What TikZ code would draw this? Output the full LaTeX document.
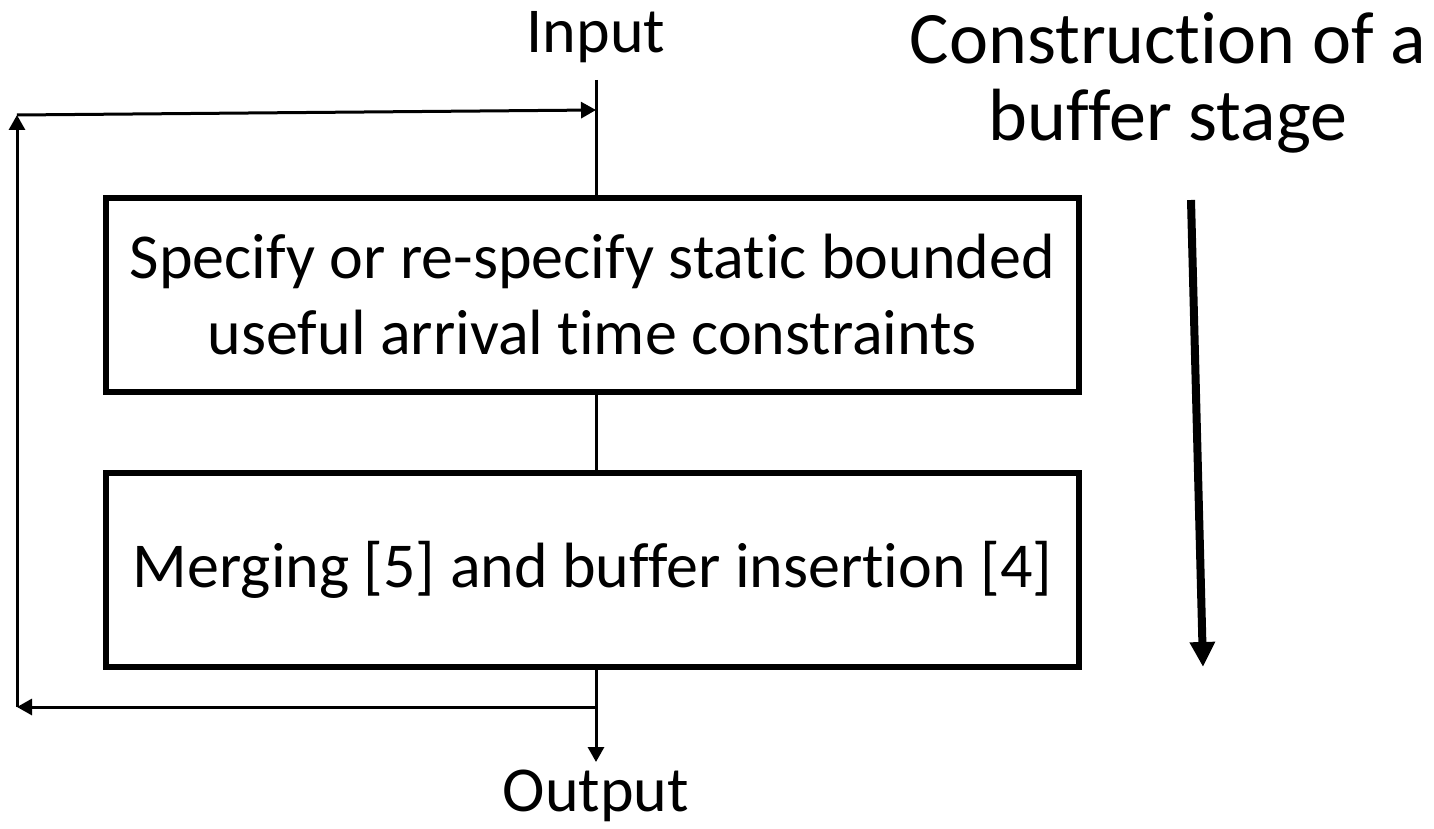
\documentclass[tikz,border=0pt]{standalone}
\usepackage{fontspec}
\setmainfont{Carlito}[Ligatures={NoCommon}]
\usetikzlibrary{arrows.meta}
\tikzset{
    stagebox/.style={draw,line width=6pt,minimum width=973pt,minimum height=194pt,
        align=center,font=\fontsize{64}{76}\selectfont},
    flow/.style={line width=3pt},
    flowarrow/.style={flow,-{Triangle[length=15pt,width=16pt]}},
    label/.style={inner sep=1pt,font=\fontsize{64}{70}\selectfont},
}
\begin{document}
\begin{tikzpicture}[x=1pt,y=-1pt]
\useasboundingbox (0,0) rectangle (1434,829);
\node (in) at (596,37) [label] {Input};
\node (out) at (596,796) [label] {Output};
\node (title) at (1168,83) [align=center,font=\fontsize{74}{77}\selectfont] {Construction of a\\buffer stage};

\node (spec) at (592.5,295) [stagebox] {Specify or re-specify static bounded\\useful arrival time constraints};
\node (merge) at (592.5,569.5) [stagebox] {Merging [5] and buffer insertion [4]};

\coordinate (top) at (596,80);
\coordinate (bot) at (596,762);
\coordinate (fbR) at (596,707);
\coordinate (fbL) at (17,707);
\coordinate (fbTL) at (17,115);
\coordinate (fbTR) at (596,110);
\coordinate (dirA) at (1191,200);
\coordinate (dirB) at (1203,667);

\draw[flow] (top) to (top |- spec.north);
\draw[flow] (top |- spec.south) to (top |- merge.north);
\draw[flowarrow] (top |- merge.south) to (bot);
\draw[flowarrow] (fbR) to (fbL);
\draw[flowarrow] (fbL) to (fbTL);
\draw[flowarrow] (fbTL) to (fbTR);

\draw[line width=8pt,-{Triangle[length=25pt,width=24pt]}] (dirA) to (dirB);
\end{tikzpicture}
\end{document}
